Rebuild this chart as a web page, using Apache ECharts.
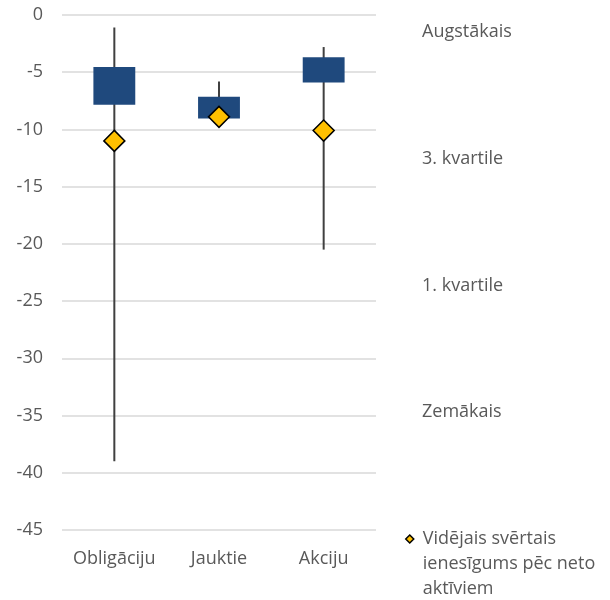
<!DOCTYPE html>
<html>
<head>
<meta charset="utf-8">
<script src="https://cdn.jsdelivr.net/npm/echarts@6/dist/echarts.min.js"></script>
<style>
  html, body { margin: 0; padding: 0; background: #fff; }
  #chart { width: 610px; height: 600px; }
</style>
</head>
<body>
<div id="chart"></div>
<script>
// Fund groups and the spread of their returns (%)
const categories = ['Obligāciju', 'Jauktie', 'Akciju'];
const maxVals = [-1.1, -5.8, -2.8];
const q3Vals = [-4.55, -7.15, -3.7];
const q1Vals = [-7.85, -9.05, -5.9];
const minVals = [-39.0, -9.1, -20.5];
const meanVals = [-11.0, -8.9, -10.1];

// Value axis range and step
const yMin = -45;
const yMax = 0;
const yStep = 5;

// Legend texts
const spreadNames = ['Augstākais', '3. kvartile', '1. kvartile', 'Zemākais'];
const meanName = 'Vidējais svērtais\nienesīgums pēc neto\naktīviem';

const FONT = '"Open Sans", "Liberation Sans", sans-serif';
const TEXT = '#595959';

const spreadData = categories.map((c, i) => [i, maxVals[i], q3Vals[i], q1Vals[i], minVals[i]]);

const chart = echarts.init(document.getElementById('chart'), null, { renderer: 'canvas' });

chart.setOption({
  animation: false,
  backgroundColor: '#fff',
  textStyle: { fontFamily: FONT },
  grid: { left: 62, right: 234, top: 15, bottom: 70, containLabel: false },
  xAxis: {
    type: 'category',
    data: categories,
    position: 'bottom',
    axisLine: { show: false },
    axisTick: { show: false },
    axisLabel: { interval: 0, fontSize: 18, color: TEXT, fontFamily: FONT, margin: 20 }
  },
  yAxis: {
    type: 'value',
    min: yMin,
    max: yMax,
    interval: yStep,
    axisLine: { show: false },
    axisTick: { show: false },
    axisLabel: { fontSize: 18, color: TEXT, fontFamily: FONT, margin: 19 },
    splitLine: { lineStyle: { color: '#d9d9d9', width: 1.5 } }
  },
  legend: [
    {
      orient: 'vertical',
      left: 417,
      top: 22,
      padding: 0,
      icon: 'none',
      itemWidth: 0,
      itemHeight: 20,
      itemGap: 106.7,
      selectedMode: false,
      data: spreadNames,
      textStyle: { fontSize: 18, color: TEXT, fontFamily: FONT, lineHeight: 20 }
    },
    {
      orient: 'vertical',
      left: 405,
      top: 476.5,
      padding: 0,
      icon: 'diamond',
      itemWidth: 8,
      itemHeight: 8,
      selectedMode: false,
      data: [meanName],
      // two leading blank lines keep the marker level with the first text line
      formatter: name => '\n\n' + name,
      itemStyle: { borderWidth: 1.5 },
      textStyle: { fontSize: 18, color: TEXT, fontFamily: FONT, lineHeight: 25, padding: [0, 0, 0, 4] }
    }
  ],
  series: [
    {
      name: 'Sadalījums',
      type: 'custom',
      data: spreadData,
      encode: { x: 0, y: [1, 2, 3, 4] },
      z: 2,
      renderItem(params, api) {
        const i = api.value(0);
        const top = api.coord([i, api.value(1)]);
        const q3 = api.coord([i, api.value(2)]);
        const q1 = api.coord([i, api.value(3)]);
        const bot = api.coord([i, api.value(4)]);
        const w = api.size([1, 0])[0] * 0.4;
        return {
          type: 'group',
          children: [
            {
              type: 'line',
              shape: { x1: top[0], y1: top[1], x2: bot[0], y2: bot[1] },
              style: { stroke: '#404040', lineWidth: 2 }
            },
            {
              type: 'rect',
              shape: { x: q3[0] - w / 2, y: q3[1], width: w, height: q1[1] - q3[1] },
              style: { fill: '#1F497D' }
            }
          ]
        };
      }
    },
    ...spreadNames.map(n => ({ name: n, type: 'line', data: [] })),
    {
      name: meanName,
      type: 'scatter',
      data: meanVals,
      symbol: 'diamond',
      symbolSize: 21,
      z: 5,
      itemStyle: { color: '#FFC000', borderColor: '#000000', borderWidth: 1.5, opacity: 1 }
    }
  ]
});
</script>
</body>
</html>
